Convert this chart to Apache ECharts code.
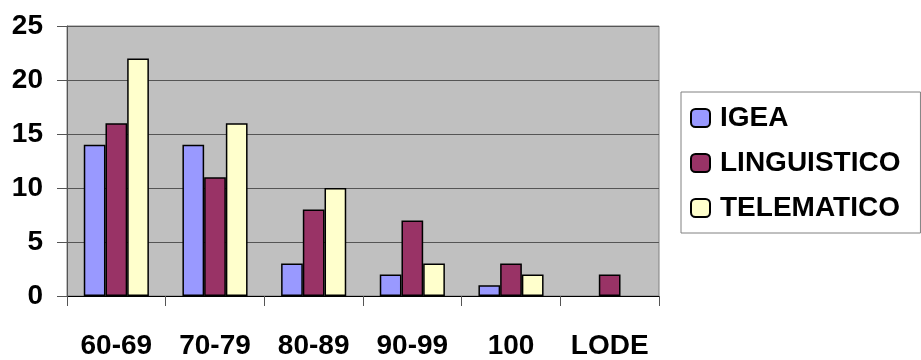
<!DOCTYPE html>
<html>
<head>
<meta charset="utf-8">
<script src="https://cdn.jsdelivr.net/npm/echarts@6/dist/echarts.min.js"></script>
<style>
  html, body { margin: 0; padding: 0; background: #ffffff; }
  #chart { width: 921px; height: 360px; }
</style>
</head>
<body>
<div id="chart"></div>
<script>
// Score bands on the category axis
const categories = ['60-69', '70-79', '80-89', '90-99', '100', 'LODE'];

// Number of students per band, one array per course
const igea        = [14, 14, 3, 2, 1, 0];
const linguistico = [16, 11, 8, 7, 3, 2];
const telematico  = [22, 16, 10, 3, 2, 0];

// Value axis range
const yMin = 0;
const yMax = 25;
const yStep = 5;

const FONT = '"Liberation Sans", Arial, sans-serif';

// A zero count leaves its slot empty: no outline is drawn for it
function toItems(data) {
  return data.map(v => v === 0
    ? { value: v, itemStyle: { borderWidth: 0, opacity: 0 } }
    : v);
}

function barSeries(name, data, color) {
  return {
    name: name,
    type: 'bar',
    data: toItems(data),
    barGap: '0%',
    barCategoryGap: '34%',
    itemStyle: { color: color, borderColor: '#000000', borderWidth: 1.5 },
    emphasis: { disabled: true }
  };
}

const chart = echarts.init(document.getElementById('chart'), null, { renderer: 'canvas' });

chart.setOption({
  animation: false,
  backgroundColor: '#ffffff',
  textStyle: { fontFamily: FONT },
  grid: {
    left: 67, right: 262, top: 26, bottom: 64,
    show: true,
    backgroundColor: '#c0c0c0',
    borderColor: '#808080',
    borderWidth: 1
  },
  legend: {
    orient: 'vertical',
    left: 681, top: 92,
    padding: [12, 20, 11, 9],
    backgroundColor: '#ffffff',
    borderColor: '#808080',
    borderWidth: 1,
    itemWidth: 19,
    itemHeight: 18,
    itemGap: 17,
    selectedMode: false,
    textStyle: {
      fontFamily: FONT, fontSize: 28, fontWeight: 'bold', color: '#000000',
      lineHeight: 27, padding: [0, 0, 0, 5]
    },
    data: ['IGEA', 'LINGUISTICO', 'TELEMATICO']
  },
  xAxis: {
    type: 'category',
    data: categories,
    boundaryGap: true,
    axisLine: { show: true, lineStyle: { color: '#000000', width: 1 } },
    axisTick: { show: true, alignWithLabel: false, length: 10, lineStyle: { color: '#555555', width: 1 } },
    axisLabel: {
      margin: 36, fontFamily: FONT, fontSize: 28, fontWeight: 'bold', color: '#000000',
      interval: 0
    },
    splitLine: { show: false }
  },
  yAxis: {
    type: 'value',
    min: yMin, max: yMax, interval: yStep,
    axisLine: { show: true, lineStyle: { color: '#555555', width: 1 } },
    axisTick: { show: true, length: 10, lineStyle: { color: '#555555', width: 1 } },
    axisLabel: { margin: 24, fontFamily: FONT, fontSize: 28, fontWeight: 'bold', color: '#000000' },
    splitLine: { show: true, lineStyle: { color: '#555555', width: 1 } }
  },
  series: [
    barSeries('IGEA', igea, '#9999ff'),
    barSeries('LINGUISTICO', linguistico, '#993366'),
    barSeries('TELEMATICO', telematico, '#ffffcc')
  ]
});
</script>
</body>
</html>
